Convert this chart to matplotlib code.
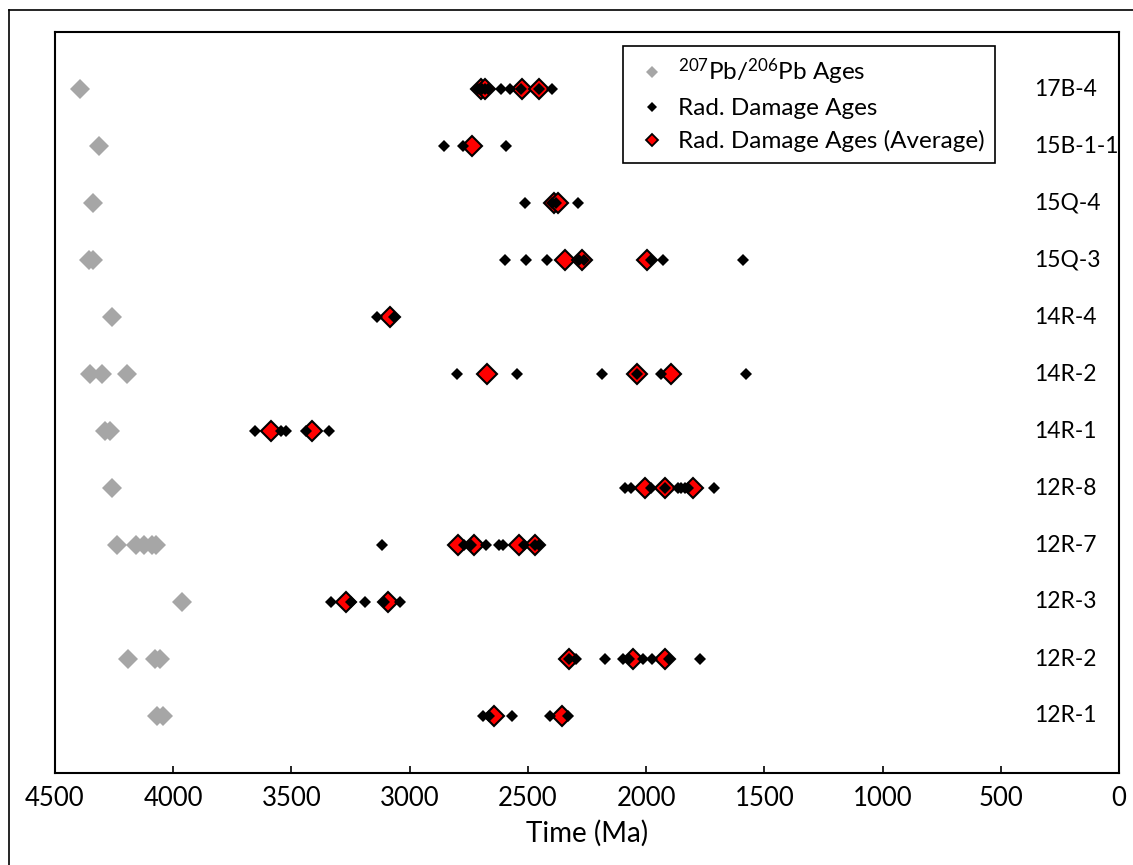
"""
Zircon ages per sample: Pb-Pb vs radiation damage ages
"""
import matplotlib
matplotlib.use("Agg")
import matplotlib.pyplot as plt
import matplotlib.transforms as mtransforms
from matplotlib.lines import Line2D

plt.rcParams["font.family"] = ["Lato", "DejaVu Sans"]
plt.rcParams["mathtext.fontset"] = "custom"
plt.rcParams["mathtext.rm"] = "Lato"
plt.rcParams["mathtext.it"] = "Lato:italic"
plt.rcParams["mathtext.bf"] = "Lato:bold"

# samples, top row first
SAMPLES = ["17B-4", "15B-1-1", "15Q-4", "15Q-3", "14R-4", "14R-2",
           "14R-1", "12R-8", "12R-7", "12R-3", "12R-2", "12R-1"]

PB_AGES = [
    [4396],
    [4313],
    [4338],
    [4355, 4340],
    [4258],
    [4352, 4300, 4197],
    [4290, 4268],
    [4258],
    [4237, 4159, 4124, 4088, 4071],
    [3961],
    [4191, 4075, 4055],
    [4070, 4045],
]

RAD_AGES = [
    [2712, 2695, 2682, 2668, 2614, 2574, 2530, 2451, 2399],
    [2856, 2776, 2591],
    [2514, 2398, 2380, 2288],
    [2597, 2508, 2420, 2285, 2262, 1980, 1929, 1591],
    [3140, 3065],
    [2801, 2546, 2188, 2038, 1936, 1576],
    [3654, 3545, 3524, 3439, 3340],
    [2091, 2063, 1978, 1919, 1866, 1851, 1837, 1823, 1713],
    [3117, 2769, 2740, 2677, 2621, 2604, 2515, 2470, 2452],
    [3333, 3250, 3188, 3108, 3041],
    [2327, 2296, 2172, 2099, 2072, 2014, 1974, 1905, 1770],
    [2691, 2663, 2569, 2406, 2331],
]

AVG_AGES = [
    [2700, 2680, 2525, 2451],
    [2736],
    [2391, 2371],
    [2341, 2273, 1995],
    [3082],
    [2673, 2038, 1894],
    [3585, 3414],
    [2004, 1919, 1802],
    [2794, 2729, 2536, 2470],
    [3270, 3093],
    [2327, 2056, 1918],
    [2642, 2355],
]

X_TICKS = [0, 500, 1000, 1500, 2000, 2500, 3000, 3500, 4000, 4500]

GRAY = "#a6a6a6"
RED = "#ff0000"

W, H = 1133, 865
fig = plt.figure(figsize=(W / 100, H / 100), dpi=100)
ax = fig.add_axes([55 / W, 1 - 773 / H, (1119 - 55) / W, (773 - 32) / H])

n = len(SAMPLES)
for i, name in enumerate(SAMPLES):
    y = n - i
    ax.plot(PB_AGES[i], [y] * len(PB_AGES[i]), ls="none", marker="D",
            ms=10.4, mfc=GRAY, mec=GRAY, mew=0, zorder=2)
    ax.plot(AVG_AGES[i], [y] * len(AVG_AGES[i]), ls="none", marker="D",
            ms=10, mfc=RED, mec="black", mew=1.5, zorder=3)
    ax.plot(RAD_AGES[i], [y] * len(RAD_AGES[i]), ls="none", marker="D",
            ms=6, mfc="black", mec="black", mew=0, zorder=4)

# sample names inside the box on the right
trans = mtransforms.blended_transform_factory(ax.transAxes, ax.transData)
for i, name in enumerate(SAMPLES):
    ax.text(0.920, n - i, name, transform=trans, ha="left", va="center",
            fontsize=16.5)

ax.set_xlim(4500, 0)
ax.set_ylim(0, 13)
ax.set_yticks([])
ax.set_xticks(X_TICKS)
ax.tick_params(axis="x", direction="in", length=5, width=1.2,
               labelsize=18.5, pad=9)
ax.set_xlabel("Time (Ma)", fontsize=20, labelpad=7)
for s in ax.spines.values():
    s.set_linewidth(1.5)

handles = [
    Line2D([], [], ls="none", marker="D", ms=6.6, mfc=GRAY, mec=GRAY, mew=0),
    Line2D([], [], ls="none", marker="D", ms=5, mfc="black", mec="black", mew=0),
    Line2D([], [], ls="none", marker="D", ms=6, mfc=RED, mec="black", mew=1.3),
]
labels = [r"$^{207}$Pb/$^{206}$Pb Ages", "Rad. Damage Ages",
          "Rad. Damage Ages (Average)"]
leg = ax.legend(handles, labels, loc="upper left",
                bbox_to_anchor=(623 / W, 1 - 46 / H),
                bbox_transform=fig.transFigure, borderaxespad=0,
                fontsize=17.5, frameon=True, fancybox=False, framealpha=1,
                edgecolor="black", handlelength=1.5, handletextpad=0.3,
                labelspacing=0.45, borderpad=0.45)
leg.get_frame().set_linewidth(1.2)

# outer frame of the picture (only top and left are in view)
fig.add_artist(Line2D([9 / W, 1], [1 - 10 / H, 1 - 10 / H], color="black",
                      lw=1.2, transform=fig.transFigure))
fig.add_artist(Line2D([9 / W, 9 / W], [0, 1 - 10 / H], color="black",
                      lw=1.2, transform=fig.transFigure))

fig.savefig("out.png", dpi=100)
